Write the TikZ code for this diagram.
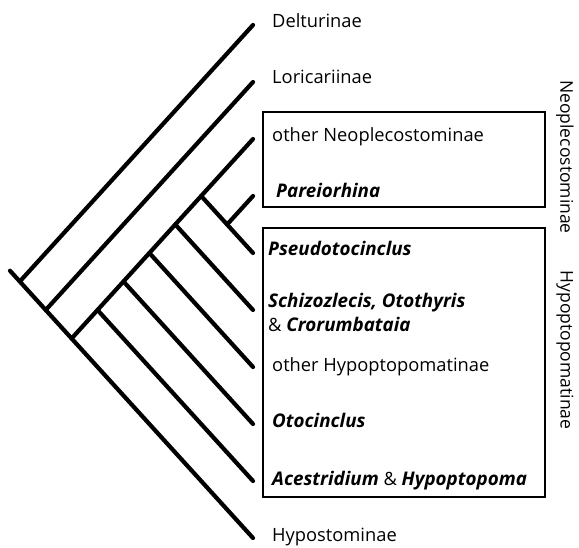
\documentclass[tikz,border=0pt]{standalone}
\usepackage{fontspec}
\setmainfont{Open Sans}
\usepackage{tikz}
\usetikzlibrary{positioning}
\tikzset{branch/.style = {line width=4.2pt, line cap=round}}
\newcommand{\genus}[1]{{\fontsize{18.8}{24}\selectfont\textbf{\textit{#1}}}}

\begin{document}
\begin{tikzpicture}[x=1pt,y=-1pt,
    tip name/.style={inner sep=0pt,font=\fontsize{18.3}{24}\selectfont},
    group box/.style={draw,line width=2.2pt},
    group name/.style={rotate=-90,inner sep=0pt,font=\fontsize{17.5}{24}\selectfont}]
                \useasboundingbox (0,0) rectangle (579,547);

                % tips of the tree
                \coordinate (t0) at (253,25);
                \coordinate (t1) at (253,82);
                \coordinate (t2) at (253,139);
                \coordinate (t3) at (253,196);
                \coordinate (t4) at (253,253);
                \coordinate (t5) at (253,310);
                \coordinate (t6) at (253,367);
                \coordinate (t7) at (253,424);
                \coordinate (t8) at (253,481);
                \coordinate (t9) at (253,538);

                % inner nodes
                \coordinate (root) at (10,270.7);
                \coordinate (n09) at (19.8,281.5);
                \coordinate (n19) at (45.7,310);
                \coordinate (n29) at (71.6,338.5);
                \coordinate (n28) at (97.5,310);
                \coordinate (n27) at (123.5,281.5);
                \coordinate (n26) at (149.4,253);
                \coordinate (n25) at (175.3,224.5);
                \coordinate (n24) at (201.2,196);
                \coordinate (n34) at (227.1,224.5);

                \path[branch] (root) edge (t9);
                \path[branch] (n09) edge (t0);
                \path[branch] (n19) edge (t1);
                \path[branch] (n29) edge (t2);
                \path[branch] (n28) edge (t8);
                \path[branch] (n27) edge (t7);
                \path[branch] (n26) edge (t6);
                \path[branch] (n25) edge (t5);
                \path[branch] (n24) edge (t4);
                \path[branch] (n34) edge (t3);

                \draw[group box] (263,112) rectangle (545,207);
                \draw[group box] (263,228) rectangle (545,497);

                \node[tip name] (l0) [base right=19pt of t0,yshift=-2pt] {Delturinae};
                \node[tip name] (l1) [base right=19pt of t1,yshift=-1pt] {Loricariinae};
                \node[tip name] (l2) [base right=19pt of t2,yshift=-2pt] {other Neoplecostominae};
                \node[tip name] (l3) [base right=23pt of t3,yshift=-1.5pt] {\genus{Pareiorhina}};
                \node[tip name] (l4) [base right=15pt of t4,yshift=-2pt] {\genus{Pseudotocinclus}};
                \node[tip name,align=left] (l5) [right=15pt of t5,yshift=-2pt] {\genus{Schizozlecis, Otothyris}\\\& \genus{Crorumbataia}};
                \node[tip name] (l6) [base right=19pt of t6,yshift=-4pt] {other Hypoptopomatinae};
                \node[tip name] (l7) [base right=19pt of t7,yshift=-3pt] {\genus{Otocinclus}};
                \node[tip name] (l8) [base right=19pt of t8,yshift=-4pt] {\genus{Acestridium} \& \genus{Hypoptopoma}};
                \node[tip name] (l9) [base right=19pt of t9,yshift=-3.5pt] {Hypostominae};

                \node[group name] (neo) at (565,157) {Neoplecostominae};
                \node[group name] (hyp) at (565,350) {Hypoptopomatinae};
            \end{tikzpicture}
\end{document}
